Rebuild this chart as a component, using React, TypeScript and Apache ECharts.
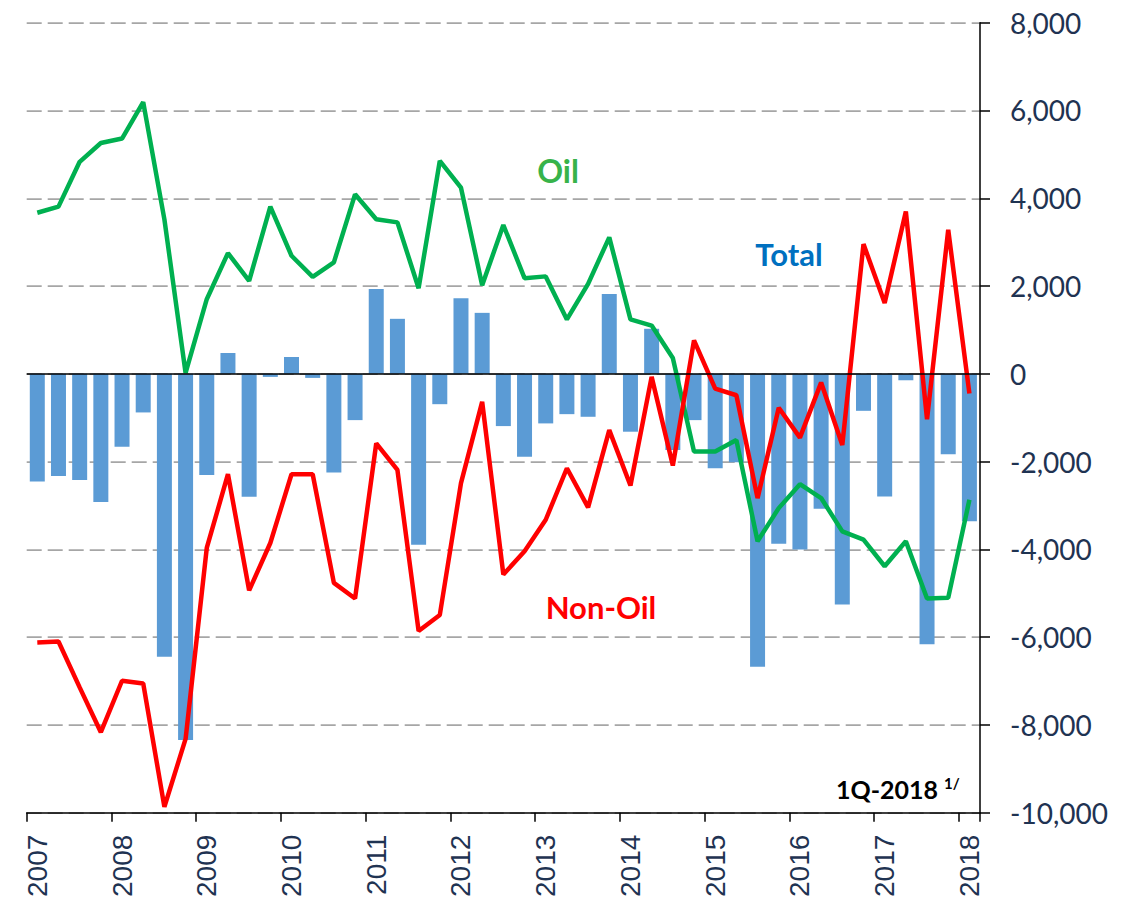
import React, { useEffect, useRef } from "react";
import * as echarts from "echarts";

const years = [2007, 2008, 2009, 2010, 2011, 2012, 2013, 2014, 2015, 2016, 2017, 2018];
const quarterNames = ["Q1", "Q2", "Q3", "Q4"];
const quarters: string[] = years.flatMap((y) => quarterNames.map((q) => `${y}${q}`)).slice(0, 45);

const total = [
  -2454, -2326, -2417, -2923, -1660, -880, -6449, -8341, -2303, 474,
  -2802, -70, 383, -93, -2250, -1055, 1934, 1253, -3892, -692,
  1722, 1389, -1191, -1887, -1130, -919, -979, 1820, -1319, 1026,
  -1736, -1055, -2152, -2016, -6676, -3870, -4005, -3075, -5254, -843,
  -2795, -147, -6162, -1834, -3362,
];

const oil = [
  3670, 3810, 4830, 5260, 5360, 6190, 3520, 20, 1700, 2750,
  2120, 3810, 2690, 2210, 2540, 4090, 3520, 3450, 1950, 4850,
  4240, 2020, 3390, 2180, 2220, 1240, 2050, 3110, 1240, 1100,
  360, -1770, -1770, -1510, -3815, -3060, -2515, -2830, -3590, -3780,
  -4385, -3815, -5120, -5100, -2870,
];

const nonOil = [
  -6120, -6100, -7145, -8166, -6993, -7054, -9868, -8318, -3967, -2288,
  -4936, -3854, -2288, -2288, -4762, -5118, -1584, -2190, -5859, -5495,
  -2492, -638, -4573, -4043, -3325, -2152, -3044, -1282, -2545, -70,
  -2091, 761, -336, -488, -2833, -774, -1455, -200, -1623, 2955,
  1616, 3697, -1033, 3280, -449,
];

const yMin = -10000;
const yMax = 8000;
const yStep = 2000;

export default function App() {
  const ref = useRef<HTMLDivElement>(null);
  useEffect(() => {
    if (!ref.current) return;
    const chart = echarts.init(ref.current, undefined, { renderer: "svg" });
    const navy = "#1F3352";
    chart.setOption({
      animation: false,
      backgroundColor: "#ffffff",
      grid: { left: 26.7, right: 155, top: 22.7, bottom: 84.3, containLabel: false },
      xAxis: {
        type: "category",
        data: quarters,
        boundaryGap: true,
        axisLine: { show: true, onZero: false, lineStyle: { color: "#000", width: 1.5 } },
        axisTick: { show: true, interval: 3, alignWithLabel: false, length: 9, lineStyle: { color: "#000", width: 1.5 } },
        axisLabel: {
          interval: 3,
          rotate: 90,
          margin: 22,
          color: navy,
          fontFamily: "Liberation Sans",
          fontSize: 28,
          formatter: (v: string) => v.slice(0, 4),
        },
        splitLine: { show: false },
      },
      yAxis: {
        type: "value",
        position: "right",
        min: yMin,
        max: yMax,
        interval: yStep,
        axisLine: { show: true, lineStyle: { color: "#000", width: 1.5 } },
        axisTick: { show: true, length: 10, lineStyle: { color: "#000", width: 1.5 } },
        axisLabel: {
          margin: 30,
          color: navy,
          fontFamily: "Lato",
          fontSize: 28,
          formatter: (v: number) => v.toLocaleString("en-US"),
        },
        splitLine: { show: true, lineStyle: { color: "#A6A6A6", width: 1.75, type: [15, 6] } },
      },
      series: [
        {
          name: "Total",
          type: "bar",
          data: total,
          barWidth: 15,
          itemStyle: { color: "#5B9BD5" },
          markLine: {
            silent: true,
            symbol: ["none", "none"],
            label: { show: false },
            lineStyle: { color: "#000", width: 1.5, type: "solid" },
            data: [{ yAxis: 0 }],
          },
        },
        {
          name: "Oil",
          type: "line",
          data: oil,
          symbol: "none",
          lineStyle: { color: "#00B050", width: 4.5 },
          z: 3,
        },
        {
          name: "Non-Oil",
          type: "line",
          data: nonOil,
          symbol: "none",
          lineStyle: { color: "#FF0000", width: 4.5 },
          z: 4,
        },
      ],
      graphic: [
        {
          type: "text",
          x: 558,
          y: 170,
          style: { text: "Oil", fill: "#37B34A", font: "bold 32px Lato", textAlign: "center", textVerticalAlign: "middle" },
        },
        {
          type: "text",
          x: 789,
          y: 254,
          style: { text: "Total", fill: "#0070C0", font: "bold 31px Lato", textAlign: "center", textVerticalAlign: "middle" },
        },
        {
          type: "text",
          x: 601,
          y: 607,
          style: { text: "Non-Oil", fill: "#FF0000", font: "bold 31px Lato", textAlign: "center", textVerticalAlign: "middle" },
        },
        {
          type: "text",
          x: 836,
          y: 789,
          style: {
            text: "{a|1Q-2018 }{b|1/}",
            textVerticalAlign: "middle",
            rich: {
              a: { fontFamily: "Lato", fontWeight: "bold", fontSize: 25, fill: "#000", color: "#000" },
              b: { fontFamily: "Lato", fontWeight: "bold", fontSize: 15, fill: "#000", color: "#000", padding: [0, 0, 12, 0] },
            },
          },
        },
      ],
    });
    return () => chart.dispose();
  }, []);
  return (
    <div
      ref={ref}
      style={{ position: "fixed", left: 0, top: 0, width: 1135, height: 900, background: "#fff" }}
    />
  );
}
